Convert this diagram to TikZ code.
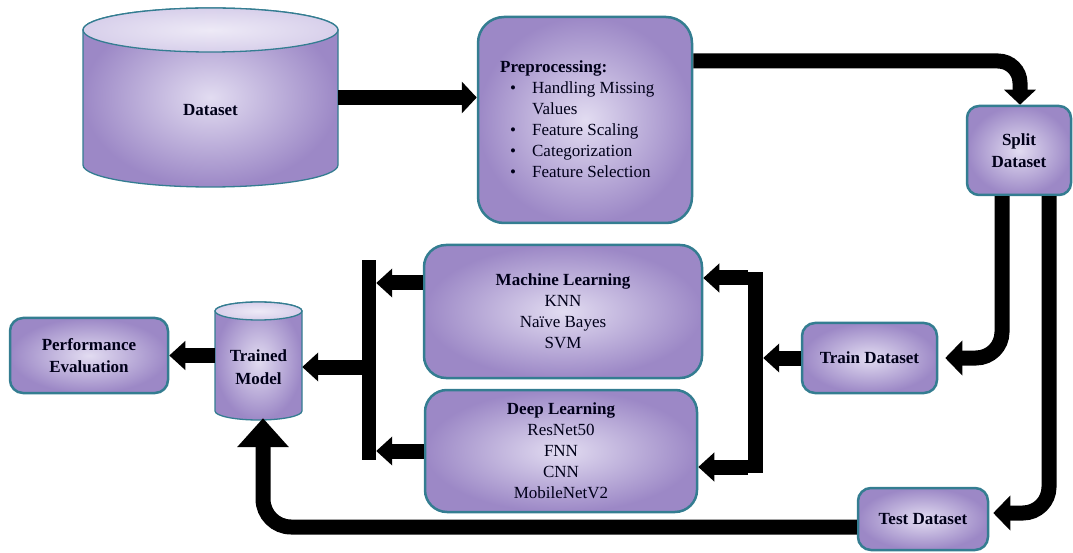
\documentclass[tikz,border=0pt]{standalone}
\usepackage{fontspec}
\setmainfont{Liberation Serif}
\newfontfamily\tnr{Liberation Serif}
\usetikzlibrary{arrows.meta}
\definecolor{pin}{RGB}{226,220,241}
\definecolor{pout}{RGB}{156,136,198}
\definecolor{bordc}{RGB}{52,125,145}
\newcommand{\drawcyl}[5]{%
  \path[inner color=pin, outer color=pout, draw=bordc, line width=1.3pt]
    (#1-#3,#2) -- (#1-#3,#5) arc[start angle=180,end angle=360,x radius=#3pt,y radius=#4pt]
    -- (#1+#3,#2) arc[start angle=0,end angle=180,x radius=#3pt,y radius=#4pt] -- cycle;
  \path[inner color=pin!60!white, outer color=pin!85!pout, draw=bordc, line width=1.3pt]
    (#1,#2) ellipse[x radius=#3pt, y radius=#4pt];
}
\tikzset{
  box/.style={draw=bordc, line width=2.5pt, inner color=pin, outer color=pout, inner sep=0pt},
  txt/.style={font=\tnr\fontsize{17}{21}\selectfont, align=center, inner sep=0pt, text=black!90!blue},
  btxt/.style={font=\tnr\fontsize{17}{22.5}\selectfont\bfseries, align=center, inner sep=0pt, text=black!90!blue},
  bar/.style={fill=black, inner sep=0pt},
  arrA/.style={line width=15pt, -{Triangle[width=31pt,length=15pt]}},
  arrB/.style={line width=15pt, -{Triangle[width=34pt,length=17pt]}},
  arrC/.style={line width=15pt, -{Triangle[width=28pt,length=16pt]}},
  arrD/.style={line width=15pt, -{Triangle[width=50pt,length=29pt]}},
}
\begin{document}
\begin{tikzpicture}[x=1pt,y=1pt]
\useasboundingbox (0,0) rectangle (1073,552);
% cylinders
\drawcyl{210.5}{522}{127.5}{22}{387}
\drawcyl{258.5}{241}{43.5}{9}{141}
\node[btxt, minimum width=255pt, minimum height=120pt] (dataset) at (210.5,442) {Dataset};
\node[btxt, minimum width=87pt, minimum height=102pt] (trained) at (258.5,185) {Trained\\Model};
% boxes
\node[box, rounded corners=26pt, minimum width=214pt, minimum height=206pt] (pre) at (585,432) {};
\node[txt, anchor=west] (pretext) at (500,431) {\begin{tabular}{@{\hspace{10pt}}l@{\hspace{16pt}}l@{}}\multicolumn{2}{@{}l@{}}{\textbf{Preprocessing:}}\\ \textbullet & Handling Missing\\ & Values\\ \textbullet & Feature Scaling\\ \textbullet & Categorization\\ \textbullet & Feature Selection\end{tabular}};
\node[box, btxt, rounded corners=12pt, minimum width=104pt, minimum height=89pt] (split) at (1019,401.5) {Split\\Dataset};
\node[box, btxt, rounded corners=13pt, minimum width=135pt, minimum height=70pt] (train) at (869.5,194) {Train Dataset};
\node[box, btxt, rounded corners=13pt, minimum width=130pt, minimum height=62pt] (test) at (923,33) {Test Dataset};
\node[box, rounded corners=22pt, minimum width=278pt, minimum height=133pt] (ml) at (563,240.5) {};
\node[txt] (mltext) at (ml.center) {\textbf{Machine Learning}\\KNN\\Na\"ive Bayes\\SVM};
\node[box, rounded corners=22pt, minimum width=272pt, minimum height=122pt] (dl) at (561,101) {};
\node[txt] (dltext) at (dl.center) {\textbf{Deep Learning}\\ResNet50\\FNN\\CNN\\MobileNetV2};
\node[box, btxt, rounded corners=13pt, minimum width=158pt, minimum height=75pt] (perf) at (89,196.5) {Performance\\Evaluation};
% bars
\node[bar, minimum width=14pt, minimum height=200pt] (lbar) at (369,192) {};
\node[bar, minimum width=15pt, minimum height=201pt] (rbar) at (755.5,179.5) {};
% connectors
\coordinate (d1) at ([yshift=12.5pt]dataset.east);
\draw[arrA] (d1) -- (d1 -| pre.west);
\draw[arrA, rounded corners=22pt] ([yshift=59pt]pre.east) -| ([xshift=1pt]split.north);
\draw[arrB, rounded corners=26pt, shorten >=7pt] ([xshift=-17pt]split.south) |- (train.east);
\coordinate (t1) at ([yshift=6pt]test.east);
\draw[arrB, rounded corners=26pt, shorten >=4pt] ([xshift=30pt]split.south) |- (t1);
\draw[arrD, rounded corners=28pt] ([yshift=-8pt]test.west) -| ([xshift=4.5pt]trained.south);
\draw[arrC] (train.west) -- (train.west -| rbar.east);
\coordinate (r1) at ([yshift=33.5pt]ml.east);
\draw[arrC] (r1 -| rbar.west) -- (r1);
\coordinate (r2) at ([yshift=-16pt]dl.east);
\draw[arrC] (r2 -| rbar.west) -- (r2);
\coordinate (m1) at ([yshift=28.5pt]ml.west);
\draw[arrC] (m1) -- (m1 -| lbar.east);
\draw[arrC] (dl.west) -- (dl.west -| lbar.east);
\draw[arrC] (lbar.west |- trained.east) -- (trained.east);
\draw[arrC] (perf.east -| trained.west) -- (perf.east);
\end{tikzpicture}
\end{document}
